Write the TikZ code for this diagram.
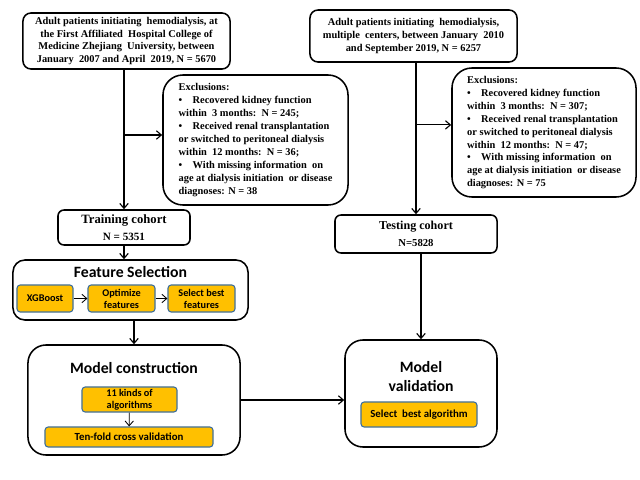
\documentclass[tikz,border=0pt]{standalone}
\usepackage{fontspec}
\setmainfont{Liberation Serif}
\newfontfamily\calibri{Carlito}
\usepackage{tikz}
\usetikzlibrary{positioning,shapes,arrows.meta,calc}
\definecolor{gold}{RGB}{255,192,0}
\definecolor{steel}{RGB}{65,113,156}
\tikzset{%
	block/.style    = {draw, rectangle, rounded corners=0.2cm, line width=1.1pt,
		inner sep=0pt, align=center, font=\fontsize{7.4}{9.2}\selectfont\bfseries},
	exbox/.style    = {block, rounded corners=0.5cm, align=left},
	stage/.style    = {draw, rectangle, rounded corners=0.45cm, line width=1.1pt},
	stitle/.style   = {font=\calibri\fontsize{11.2}{13.5}\selectfont\bfseries, align=center, inner sep=0pt},
	goldbox/.style  = {draw=steel, fill=gold, rectangle, rounded corners=0.08cm, line width=0.8pt,
		inner sep=0pt, align=center, font=\calibri\fontsize{7.3}{8.6}\selectfont\bfseries}
}

\begin{document}
\begin{tikzpicture}[x=0.025cm, y=-0.025cm, thick, >={Straight Barb[length=3.5pt,width=6pt]}]
        \useasboundingbox (0,0) rectangle (640,480);
        \draw
            node at (126.5,41)[block, name=src1, minimum width=5.175cm, minimum height=1.4cm]
                {Adult patients initiating\ \ hemodialysis, at\\ the First Affiliated\ \ Hospital College of\\ Medicine Zhejiang\ \ University, between\\ January\ \ 2007 and April\ \ 2019, N = 5670}
            node at (413.5,36)[block, name=src2, minimum width=5.175cm, minimum height=1.3cm]
                {Adult patients initiating\ \ hemodialysis,\\ multiple\ \ centers, between January\ \ 2010\\ and September 2019, N = 6257}
            node at (255.5,140)[exbox, name=ex1, minimum width=4.625cm, minimum height=3.25cm]
                {\begin{tabular}{@{}l@{}}Exclusions:\\
                 \textbullet\quad Recovered kidney function\\ within\ \ 3 months:\ \ N = 245;\\
                 \textbullet\quad Received renal transplantation\\ or switched to peritoneal dialysis\\ within\ \ 12 months:\ \ N = 36;\\
                 \textbullet\quad With missing information\ \ on\\ age at dialysis initiation\ \ or disease\\ diagnoses: N = 38\end{tabular}}
            node at (544,132.5)[exbox, name=ex2, minimum width=4.6cm, minimum height=3.225cm]
                {\begin{tabular}{@{}l@{}}Exclusions:\\
                 \textbullet\quad Recovered kidney function\\ within\ \ 3 months:\ \ N = 307;\\
                 \textbullet\quad Received renal transplantation\\ or switched to peritoneal dialysis\\ within\ \ 12 months:\ \ N = 47;\\
                 \textbullet\quad With missing information\ \ on\\ age at dialysis initiation\ \ or disease\\ diagnoses: N = 75\end{tabular}}
            node at (124,227.5)[block, name=train, rounded corners=0.15cm, minimum width=3.3cm, minimum height=0.875cm,
                font=\bfseries]
                {\fontsize{9}{11}\selectfont Training cohort\\ \fontsize{7.9}{10}\selectfont N = 5351}
            node at (416,234)[block, name=test, rounded corners=0.15cm, minimum width=4.05cm, minimum height=0.95cm,
                font=\bfseries]
                {\fontsize{8.6}{10.5}\selectfont Testing cohort\\ \fontsize{7.6}{9.5}\selectfont N=5828};

        \node at (130.5,290)[stage, name=fs, rounded corners=0.3cm, minimum width=5.875cm, minimum height=1.5cm] {};
        \node at (130.5,272)[stitle] (fs_t) {Feature Selection};
        \node at (45,298.5)[goldbox, minimum width=1.4cm, minimum height=0.675cm] (xgb) {XGBoost};
        \node at (121.5,298.5)[goldbox, minimum width=1.675cm, minimum height=0.675cm] (opt) {Optimize\\features};
        \node at (201.5,298.5)[goldbox, minimum width=1.675cm, minimum height=0.675cm] (best) {Select best\\features};

        \node at (134,400)[stage, name=mc, minimum width=5.3cm, minimum height=2.75cm] {};
        \node at (134,368)[stitle] (mc_t) {Model construction};
        \node at (129.5,399.5)[goldbox, minimum width=2.375cm, minimum height=0.625cm] (algs) {11 kinds of\\algorithms};
        \node at (129,437)[goldbox, minimum width=4.2cm, minimum height=0.5cm, font=\calibri\fontsize{7.7}{9}\selectfont\bfseries] (tenfold) {Ten-fold cross validation};

        \node at (421,393.5)[stage, name=mv, minimum width=3.8cm, minimum height=2.675cm] {};
        \node at (421,377)[stitle] (mv_t) {Model\\validation};
        \node at (419,414.5)[goldbox, minimum width=2.9cm, minimum height=0.625cm, font=\calibri\fontsize{7.7}{9}\selectfont\bfseries] (selalg) {Select\ \ best algorithm};

        \coordinate (split1) at (src1.south -| train.north);
        \coordinate (split2) at (src2.south -| test.north);
        \coordinate (in1) at ([yshift=0.125cm]ex1.west);
        \coordinate (in2) at ([yshift=0.19cm]ex2.west);
        \draw[->](split1) -- (train.north);
        \draw[->](split1 |- in1) -- (in1);
        \draw[->](train) -- (train |- fs.north);
        \draw[->](fs.south -| mc.north) -- (mc.north);
        \draw[->, line width=0.6pt](xgb) -- (opt);
        \draw[->, line width=0.6pt](opt) -- (best);
        \draw[->, line width=0.6pt](algs) -- (tenfold);

        \draw[->](split2) -- (test.north);
        \draw[->](split2 |- in2) -- (in2);
        \draw[->](test.south -| mv.north) -- (mv.north);
        \draw[->](mc.east) -- (mc.east -| mv.west);
    \end{tikzpicture}
\end{document}
